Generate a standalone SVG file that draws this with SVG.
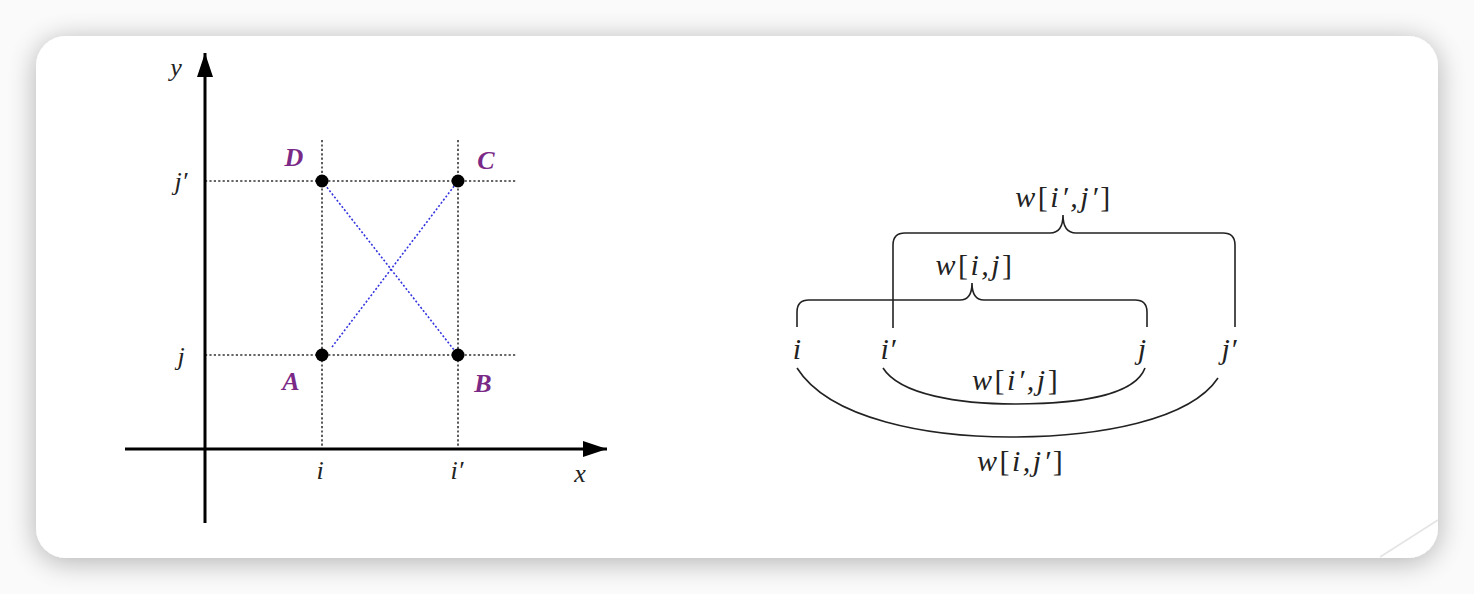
<svg xmlns="http://www.w3.org/2000/svg" width="1474" height="594" viewBox="0 0 1474 594">
<defs>
<filter id="sh" x="-10%" y="-10%" width="120%" height="130%">
<feGaussianBlur in="SourceAlpha" stdDeviation="14"/>
<feOffset dy="4" result="b"/>
<feComponentTransfer><feFuncA type="linear" slope="0.3"/></feComponentTransfer>
<feMerge><feMergeNode/><feMergeNode in="SourceGraphic"/></feMerge>
</filter>
<marker id="ah" viewBox="0 0 24 16" refX="24" refY="8" markerWidth="24" markerHeight="16" markerUnits="userSpaceOnUse" orient="auto">
<path d="M0,0 L24,8 L0,16 Z" fill="#000"/>
</marker>
<style>
.t{font-family:"Liberation Serif",serif;font-style:italic;fill:#222;}
.up{font-style:normal;}
.lab{font-family:"Liberation Serif",serif;font-style:italic;font-weight:bold;fill:#7a2a86;font-size:26px;}
.grid{stroke:#333;stroke-width:1.6;stroke-dasharray:2.2 2.2;fill:none;}
.blue{stroke:#3535e0;stroke-width:1.6;stroke-dasharray:2 2;fill:none;}
.axis{stroke:#000;stroke-width:3;fill:none;}
.br{stroke:#222;stroke-width:1.6;fill:none;}
</style>
</defs>
<rect width="1474" height="594" fill="#fafafa"/>
<rect x="36" y="36" width="1402" height="522" rx="30" fill="#fff" filter="url(#sh)"/>
<line x1="1380" y1="557" x2="1438" y2="520" stroke="#e4e4e4" stroke-width="1.5"/>

<g id="grid">
<line class="grid" x1="322" y1="140" x2="322" y2="449"/>
<line class="grid" x1="458" y1="140" x2="458" y2="449"/>
<line class="grid" x1="205" y1="181" x2="517" y2="181"/>
<line class="grid" x1="205" y1="355" x2="517" y2="355"/>
</g>
<g id="connectors">
<line class="blue" x1="322" y1="181" x2="458" y2="355"/>
<line class="blue" x1="332" y1="347" x2="458" y2="181"/>
<line class="axis" x1="205" y1="523" x2="205" y2="53" marker-end="url(#ah)"/>
<line class="axis" x1="125" y1="449" x2="607" y2="449" marker-end="url(#ah)"/>
</g>
<g id="A"><circle cx="322" cy="355" r="6.5" fill="#000"/><text class="lab" x="291" y="390" text-anchor="middle">A</text></g>
<g id="B"><circle cx="458" cy="355" r="6.5" fill="#000"/><text class="lab" x="483" y="392" text-anchor="middle">B</text></g>
<g id="C"><circle cx="458" cy="181" r="6.5" fill="#000"/><text class="lab" x="486" y="169" text-anchor="middle">C</text></g>
<g id="D"><circle cx="322" cy="181" r="6.5" fill="#000"/><text class="lab" x="294" y="166" text-anchor="middle">D</text></g>
<g id="axislabels" font-size="26">
<text class="t" x="176" y="76" text-anchor="middle">y</text>
<text class="t" x="580" y="482" text-anchor="middle">x</text>
<text class="t" x="320" y="479" text-anchor="middle">i</text>
<text class="t" x="457" y="479" text-anchor="middle">i′</text>
<text class="t" x="181" y="190" text-anchor="middle">j′</text>
<text class="t" x="181" y="365" text-anchor="middle">j</text>
</g>

<g id="braces">
<path class="br" d="M893,328 V245 Q893,233 905,233 H1050 Q1063,233 1063,215 Q1063,233 1076,233 H1223 Q1235,233 1235,245 V327"/>
<path class="br" d="M797,327 V312 Q797,300 809,300 H960 Q972,300 972,283 Q972,300 984,300 H1135 Q1147,300 1147,312 V327"/>
<path class="br" d="M883,368 C900,395 960,404 1015,404 C1080,404 1135,395 1145,368"/>
<path class="br" d="M797,368 C830,420 930,437 1010,437 C1100,437 1190,420 1218,378"/>
</g>
<g id="seqlabels" font-size="30">
<text class="t" x="797" y="359" text-anchor="middle">i</text>
<text class="t" x="888" y="359" text-anchor="middle">i′</text>
<text class="t" x="1142" y="359" text-anchor="middle">j</text>
<text class="t" x="1229" y="359" text-anchor="middle">j′</text>
</g>
<g id="wlabels" font-size="30" letter-spacing="2.5">
<text class="t" x="1064" y="207" text-anchor="middle">w<tspan class="up">[</tspan>i′,j′<tspan class="up">]</tspan></text>
<text class="t" x="975" y="275" text-anchor="middle">w<tspan class="up">[</tspan>i,j<tspan class="up">]</tspan></text>
<text class="t" x="1016" y="390" text-anchor="middle">w<tspan class="up">[</tspan>i′,j<tspan class="up">]</tspan></text>
<text class="t" x="1021" y="471" text-anchor="middle">w<tspan class="up">[</tspan>i,j′<tspan class="up">]</tspan></text>
</g>
</svg>
